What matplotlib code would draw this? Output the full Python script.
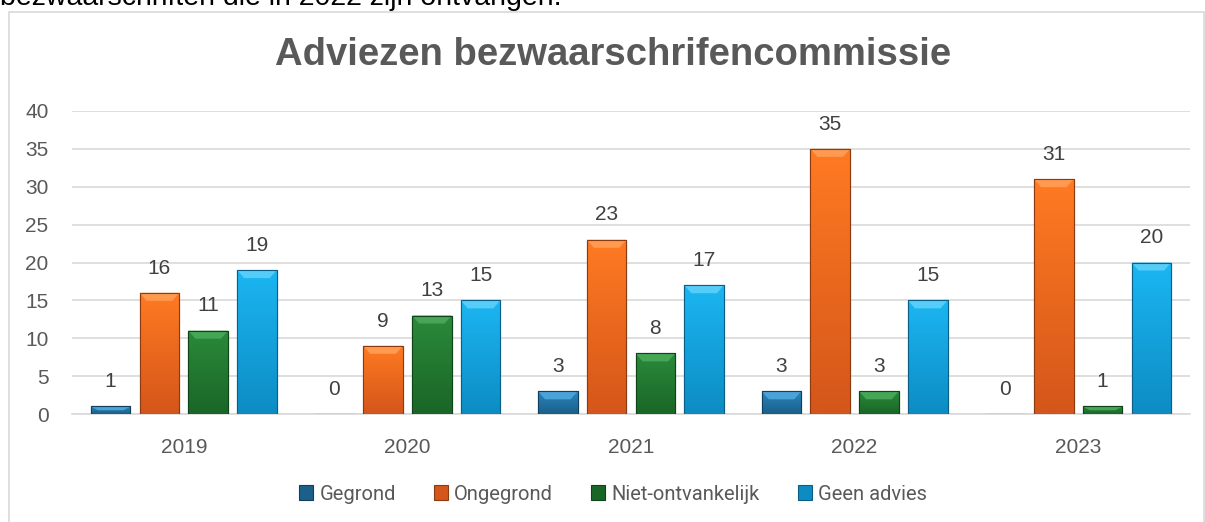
import numpy as np
import matplotlib
matplotlib.use("Agg")
import matplotlib.pyplot as plt
from matplotlib.patches import Rectangle, Polygon, Patch
from matplotlib.colors import LinearSegmentedColormap

# data
years = ["2019", "2020", "2021", "2022", "2023"]
series = ["Gegrond", "Ongegrond", "Niet-ontvankelijk", "Geen advies"]
gegrond = [1, 0, 3, 3, 0]
ongegrond = [16, 9, 23, 35, 31]
niet_ontv = [11, 13, 8, 3, 1]
geen_advies = [19, 15, 17, 15, 20]
values = [gegrond, ongegrond, niet_ontv, geen_advies]

# (top colour, bottom colour, bevel colour, edge colour)
styles = [
    ("#2a86bb", "#1b5f8a", "#4aa3d6", "#123f5c"),
    ("#ff7a22", "#d4561a", "#ff9a50", "#8c3a10"),
    ("#2a8a3a", "#1a6627", "#46a656", "#0f4419"),
    ("#1bb6f2", "#0d8cc4", "#55cdf8", "#0b5f87"),
]

plt.rcParams['font.family'] = ['Liberation Sans', 'DejaVu Sans']
W, H = 1205, 522
fig = plt.figure(figsize=(W / 100, H / 100), dpi=100)

# chart border box
fig.patches.append(Rectangle((9 / W, -0.05), 1195 / W, 1 - 12 / H + 0.05,
                             transform=fig.transFigure, fill=False,
                             edgecolor="#d9d9d9", linewidth=1.2))

# cut off sentence from the surrounding document
fig.text(0.0, 1 - 5 / H, "bezwaarschriften die in 2022 zijn ontvangen.",
         fontsize=20.5, color="#000000", va="baseline", ha="left")

fig.text(613 / W, 1 - 55 / H, "Adviezen bezwaarschrifencommissie",
         fontsize=27.5, fontweight="bold", color="#595959",
         ha="center", va="center")

ax = fig.add_axes([72 / W, 108 / H, (1190 - 72) / W, (414 - 111) / H])
ax.set_xlim(-0.5, len(years) - 0.5)
ax.set_ylim(0, 40)

bar_w = 0.177
step = 0.218
x = np.arange(len(years))
ppu_y = (414 - 111) / 40.0     # pixels per y unit
ppu_x = (1190 - 72) / 5.0      # pixels per x unit

for i, (vals, st) in enumerate(zip(values, styles)):
    xs = x + (i - 1.5) * step
    bars = ax.bar(xs, vals, width=bar_w, color=st[1], edgecolor=st[3],
                  linewidth=0.8, zorder=3)
    cmap = LinearSegmentedColormap.from_list("g%d" % i, [st[0], st[1]])
    for b, v in zip(bars, vals):
        if v > 0:
            x0 = b.get_x()
            x1 = x0 + b.get_width()
            grad = np.linspace(0, 1, 100).reshape(-1, 1)
            im = ax.imshow(grad, cmap=cmap, aspect="auto", origin="upper",
                           extent=(x0, x1, 0, v), zorder=3.5)
            im.set_clip_path(b)
            dy = min(8 / ppu_y, v * 0.5)
            dx = 7 / ppu_x
            ax.add_patch(Polygon([(x0, v), (x1, v), (x1 - dx, v - dy),
                                  (x0 + dx, v - dy)], closed=True,
                                 facecolor=st[2], edgecolor="none",
                                 zorder=3.6))
            ax.add_patch(Rectangle((x0, 0), x1 - x0, v, fill=False,
                                   edgecolor=st[3], linewidth=0.8,
                                   zorder=3.7))
        ax.annotate(str(v), (b.get_x() + b.get_width() / 2, v),
                    xytext=(0, 11), textcoords="offset points",
                    ha="center", va="bottom", fontsize=15, color="#404040")

ax.set_xticks(x)
ax.set_xticklabels(years)
ax.set_yticks(range(0, 41, 5))
ax.tick_params(axis="both", length=0, labelsize=15, labelcolor="#595959")
ax.tick_params(axis="y", pad=17)
ax.tick_params(axis="x", pad=17)
ax.grid(axis="y", color="#d9d9d9", linewidth=1.2, zorder=0)
ax.set_axisbelow(True)
for s in ["left", "right", "top"]:
    ax.spines[s].set_visible(False)
ax.spines["bottom"].set_color("#d9d9d9")
ax.spines["bottom"].set_linewidth(1.2)

handles = [Patch(facecolor=st[1], edgecolor=st[3], linewidth=0.8)
           for st in styles]
fig.legend(handles, series, loc="center", bbox_to_anchor=(613 / W, 1 - 494 / H),
           ncol=4, frameon=False, handlelength=0.7, handleheight=0.7,
           handletextpad=0.3, columnspacing=1.9,
           prop={"family": ["Roboto", "DejaVu Sans"], "size": 14.5},
           labelcolor="#595959")

fig.savefig("out.png", dpi=100)
